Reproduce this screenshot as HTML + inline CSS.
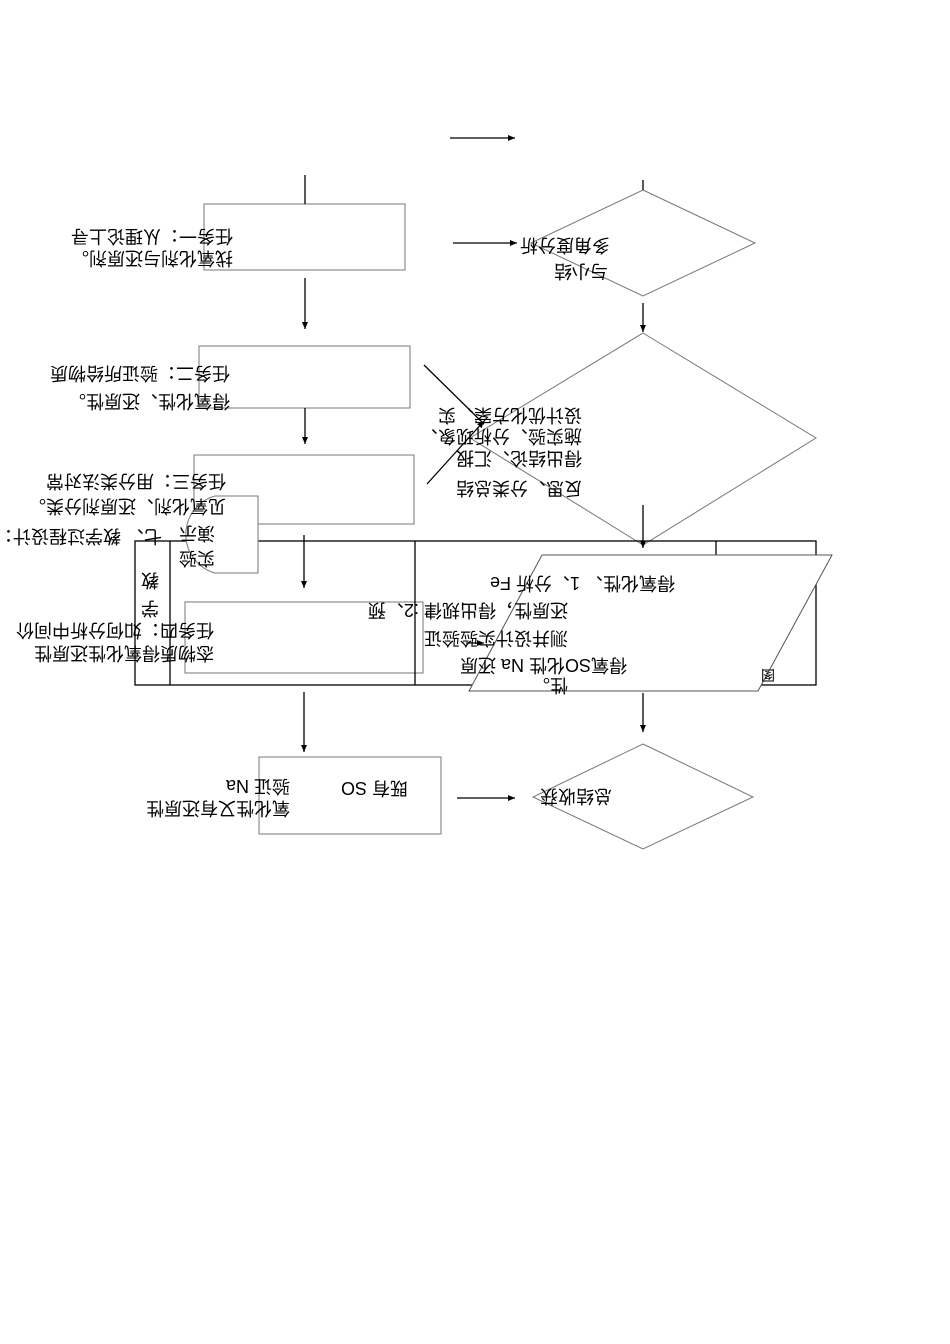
<!DOCTYPE html>
<html><head><meta charset="utf-8"><style>
html,body{margin:0;padding:0;background:#fff;}
svg{display:block;}
text{font-family:"Liberation Sans","Noto Sans CJK SC",sans-serif;font-size:18px;fill:#000;}
</style></head><body>
<svg width="950" height="1344" viewBox="0 0 950 1344" xmlns="http://www.w3.org/2000/svg">
<defs><marker id="a" markerWidth="8" markerHeight="8" refX="7" refY="4" orient="auto" markerUnits="userSpaceOnUse"><path d="M0,1 L7,4 L0,7 Z" fill="#000"/></marker></defs>
<g fill="none" stroke="#777" stroke-width="1">
<rect x="204" y="204" width="201" height="66"/>
<rect x="199" y="346" width="211" height="62"/>
<rect x="194" y="455" width="220" height="69"/>
<rect x="185" y="602" width="238" height="71"/>
<rect x="259" y="757" width="182" height="77"/>
<polygon points="643,190 755,243 643,296 531,243"/>
<polygon points="643,333 816,438 643,545 470,438"/>
<polygon points="643,744 753,797 643,849 533,797"/>
</g>
<g fill="none" stroke="#000" stroke-width="1.3">
<rect x="135" y="541" width="681" height="144"/>
<line x1="170" y1="541" x2="170" y2="685"/>
<line x1="415" y1="541" x2="415" y2="685"/>
<line x1="716" y1="541" x2="716" y2="685"/>
</g>
<path d="M258,496 L258,573 L215,573 A40,40 0 0 1 215,496 Z" fill="#fff" stroke="#777"/>
<polygon points="542,555 832,555 758,691 469,691" fill="#fff" stroke="#555"/>
<g stroke="#000" stroke-width="1.3" fill="none">
<line x1="450" y1="138" x2="515" y2="138" marker-end="url(#a)"/>
<line x1="305" y1="175" x2="305" y2="204"/>
<line x1="305" y1="278" x2="305" y2="329" marker-end="url(#a)"/>
<line x1="305" y1="408" x2="305" y2="444" marker-end="url(#a)"/>
<line x1="304" y1="535" x2="304" y2="588" marker-end="url(#a)"/>
<line x1="304" y1="692" x2="304" y2="752" marker-end="url(#a)"/>
<line x1="643" y1="180" x2="643" y2="190"/>
<line x1="643" y1="303" x2="643" y2="332" marker-end="url(#a)"/>
<line x1="643" y1="505" x2="643" y2="548" marker-end="url(#a)"/>
<line x1="643" y1="693" x2="643" y2="732" marker-end="url(#a)"/>
<line x1="453" y1="243" x2="517" y2="243" marker-end="url(#a)"/>
<line x1="457" y1="798" x2="515" y2="798" marker-end="url(#a)"/>
<line x1="424" y1="365" x2="484" y2="424"/>
<line x1="427" y1="484" x2="484" y2="421" marker-end="url(#a)"/>
<line x1="466" y1="643" x2="484" y2="643" marker-end="url(#a)"/>
</g>
<g>
<text transform="translate(233,230) rotate(180)">任务一：从理论上寻</text>
<text transform="translate(233,252) rotate(180)">找氧化剂与还原剂。</text>
<text transform="translate(230,367) rotate(180)">任务二：验证所给物质</text>
<text transform="translate(230,395) rotate(180)">得氧化性、还原性。</text>
<text transform="translate(226,475) rotate(180)">任务三：用分类法对常</text>
<text transform="translate(226,500) rotate(180)">见氧化剂、还原剂分类。</text>
<text transform="translate(162,530) rotate(180)">七、 教学过程设计：</text>
<text transform="translate(215,527) rotate(180)">演示</text>
<text transform="translate(215,552) rotate(180)">实验</text>
<text transform="translate(159,574) rotate(180)">教</text>
<text transform="translate(159,602) rotate(180)">学</text>
<text transform="translate(214,624) rotate(180)">任务四：如何分析中间价</text>
<text transform="translate(214,647) rotate(180)">态物质得氧化性还原性</text>
<text transform="translate(610,239) rotate(180)">多角度分析</text>
<text transform="translate(608,265) rotate(180)">与小结</text>
<text transform="translate(582,409) rotate(180)">设计优化方案、实</text>
<text transform="translate(582,430) rotate(180)">施实验、分析现象、</text>
<text transform="translate(582,452) rotate(180)">得出结论、汇报</text>
<text transform="translate(582,482) rotate(180)">反思、分类总结</text>
<text transform="translate(675,577) rotate(180)">得氧化性、  1、分析 Fe</text>
<text transform="translate(568,604) rotate(180)">还原性，得出规律 :2、预</text>
<text transform="translate(568,632) rotate(180)">测并设计实验验证</text>
<text transform="translate(627,659) rotate(180)">得氧SO化性 Na 还原</text>
<text transform="translate(568,679) rotate(180)">性。</text>
<text transform="translate(775,670) rotate(180)" style="font-size:14px">图</text>
<text transform="translate(408,782) rotate(180)">既有 SO</text>
<text transform="translate(290,780) rotate(180)">验证 Na</text>
<text transform="translate(290,802) rotate(180)">氧化性又有还原性</text>
<text transform="translate(612,790) rotate(180)">总结收获</text>
</g>
</svg>
</body></html>
